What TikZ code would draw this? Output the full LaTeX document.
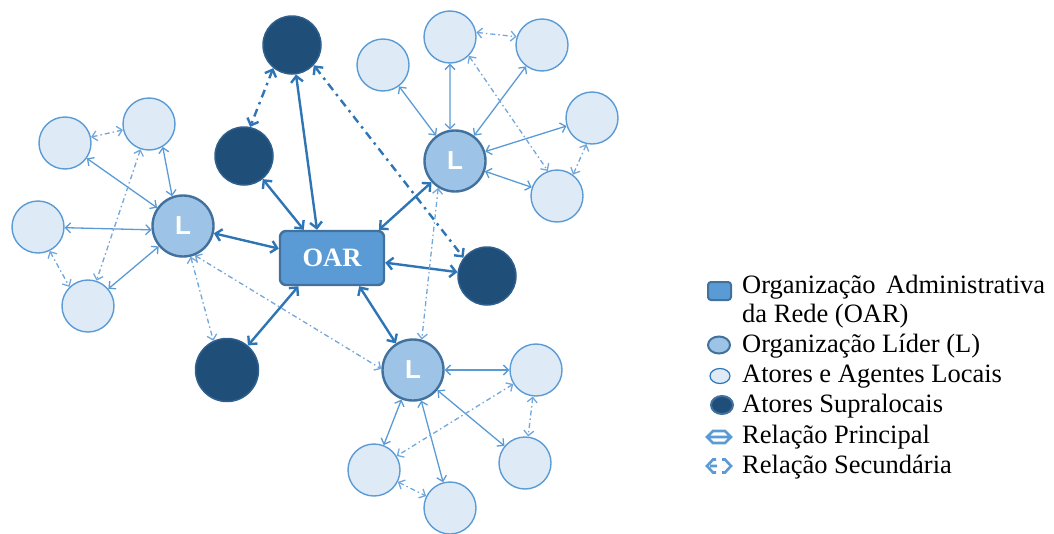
\documentclass[tikz,border=0pt]{standalone}
\usepackage{fontspec}
\setmainfont{Liberation Serif}
\newfontfamily\lsans{Liberation Sans}
\usetikzlibrary{arrows.meta,shapes.geometric}
\definecolor{lightfill}{HTML}{DEEBF7}
\definecolor{lightedge}{HTML}{5B9BD5}
\definecolor{secedge}{HTML}{72A7DC}
\definecolor{leadfill}{HTML}{9DC3E6}
\definecolor{leadedge}{HTML}{41719C}
\definecolor{oarfill}{HTML}{5B9BD5}
\definecolor{darkfill}{HTML}{1F4E79}
\definecolor{darkedge}{HTML}{2F5F8C}
\definecolor{prinedge}{HTML}{2E75B6}
\begin{document}
\begin{tikzpicture}[x=1pt,y=-1pt,
 lightnode/.style={circle, minimum size=52pt, inner sep=0pt, fill=lightfill, draw=lightedge, line width=1.4pt},
 leadnode/.style={circle, minimum size=61pt, inner sep=0pt, fill=leadfill, draw=leadedge, line width=2.4pt, text=white, font=\lsans\bfseries\fontsize{26}{26}\selectfont},
 supranode/.style={circle, minimum size=58pt, inner sep=0pt, fill=darkfill, draw=darkedge, line width=1.5pt},
 oarnode/.style={rectangle, rounded corners=6pt, minimum width=104pt, minimum height=54pt, inner sep=0pt, fill=oarfill, draw=leadedge, line width=2.4pt, text=white, font=\bfseries\fontsize{26.5}{26.5}\selectfont},
 prin/.style={draw=prinedge, line width=2.4pt, {Straight Barb[length=6pt,width=12pt]}-{Straight Barb[length=6pt,width=12pt]}},
 prinsec/.style={prin, dash pattern=on 8pt off 5pt on 2.5pt off 5pt},
 loc/.style={draw=lightedge, line width=1.3pt, {Straight Barb[length=5pt,width=10pt]}-{Straight Barb[length=5pt,width=10pt]}},
 locsec/.style={draw=secedge, line width=1.3pt, dash pattern=on 5pt off 3pt on 1.5pt off 3pt, {Straight Barb[length=5pt,width=10pt]}-{Straight Barb[length=5pt,width=10pt]}},
 legtext/.style={anchor=base west, inner sep=0pt, font=\fontsize{26.5}{30}\selectfont},
 legicon/.style={inner sep=0pt},
 legarrow/.style={draw=lightedge, line width=2.6pt, line join=miter}
]
\useasboundingbox (0,0) rectangle (1054,533);

% left cluster
\node[lightnode] (A1) at (65,143) {};
\node[lightnode] (A2) at (149,124) {};
\node[lightnode] (A3) at (38,227) {};
\node[lightnode] (A4) at (88,306) {};
\node[leadnode] (L1) at (183,226) {L};
% supralocal actors
\node[supranode] (D1) at (292,45) {};
\node[supranode] (D2) at (244,156) {};
\node[supranode] (D3) at (487,276) {};
\node[supranode, minimum size=63pt] (D4) at (227,370) {};
% OAR
\node[oarnode] (OAR) at (332,258) {OAR};
% top right cluster
\node[leadnode] (L2) at (455,161) {L};
\node[lightnode] (B1) at (383,65) {};
\node[lightnode] (B2) at (450,37) {};
\node[lightnode] (B3) at (542,45) {};
\node[lightnode] (B4) at (592,118) {};
\node[lightnode] (B5) at (557,196) {};
% bottom right cluster
\node[leadnode] (L3) at (413,370) {L};
\node[lightnode] (C1) at (536,370) {};
\node[lightnode] (C2) at (525,463) {};
\node[lightnode] (C3) at (450,508) {};
\node[lightnode] (C4) at (374,470) {};

% principal relations
\draw[prin] (L1) -- (OAR.170);
\draw[prin] (D2) -- (OAR.135);
\draw[prin] (D1) -- (OAR.118);
\draw[prin] (L2) -- (OAR.31);
\draw[prin] (OAR.-5) -- (D3);
\draw[prin] (D4) -- (OAR.220);
\draw[prin] (L3) -- (OAR.-46);
\draw[prinsec] (D1.231) -- (D2.78);
\draw[prinsec] (D1.-43) -- (D3.142);

% secondary between leaders / supralocal
\draw[locsec] (L1.-76) -- (D4.115);
\draw[locsec] (L1.-68) -- (L3.178);
\draw[locsec] (L2.238) -- (L3.74);

% left cluster
\draw[loc] (A1) -- (L1);
\draw[loc] (A2.-59) -- (L1.110);
\draw[loc] (A3) -- (L1.187);
\draw[loc] (A4) -- (L1);
\draw[locsec] (A1) -- (A2);
\draw[locsec] (A2) -- (A4);
\draw[locsec] (A3.-64) -- (A4.134);

% top right cluster
\draw[loc] (B1) -- (L2);
\draw[loc] (B2.-90) -- (L2.99);
\draw[loc] (B3) -- (L2);
\draw[loc] (B4) -- (L2);
\draw[loc] (L2) -- (B5);
\draw[locsec] (B2.10) -- (B3.162);
\draw[locsec] (B2.-45) -- (B5.110);
\draw[locsec] (B4.-102) -- (B5.53);

% bottom right cluster
\draw[loc] (L3) -- (C1);
\draw[loc] (L3) -- (C2);
\draw[loc] (L3) -- (C3);
\draw[loc] (L3) -- (C4);
\draw[locsec] (C1) -- (C2);
\draw[locsec] (C4) -- (C3);
\draw[locsec] (C1) -- (C4);

% legend
\node[legicon, rectangle, rounded corners=3pt, minimum width=23pt, minimum height=18pt, fill=oarfill, draw=leadedge, line width=2pt] (k1) at (719.5,291) {};
\node[legicon, ellipse, minimum width=22pt, minimum height=17pt, fill=leadfill, draw=leadedge, line width=2pt] (k2) at (719,345) {};
\node[legicon, ellipse, minimum width=20pt, minimum height=15pt, fill=lightfill, draw=prinedge, line width=1.2pt] (k3) at (720,376) {};
\node[legicon, ellipse, minimum width=22pt, minimum height=18pt, fill=darkfill, draw=leadedge, line width=2pt] (k4) at (722,405) {};
\draw[legarrow] (707,437) -- (713,431) -- (725,431) -- (731,437) -- (725,443) -- (713,443) -- cycle (709,437) -- (729,437);
\draw[legarrow] (716,459.5) -- (713,459.5) -- (707,466) -- (713,472.5) -- (716,472.5) (710,466) -- (717,466)
  (722,459.5) -- (725,459.5) -- (731,466) -- (725,472.5) -- (722,472.5);

\node[legtext] (t1) at (742,293) {\makebox[303pt][s]{Organização Administrativa}};
\node[legtext] (t2) at (742,322) {da Rede (OAR)};
\node[legtext] (t3) at (742,352) {Organização Líder (L)};
\node[legtext] (t4) at (742,382) {Atores e Agentes Locais};
\node[legtext] (t5) at (742,412) {Atores Supralocais};
\node[legtext] (t6) at (742,443) {Relação Principal};
\node[legtext] (t7) at (742,473) {Relação Secundária};
\end{tikzpicture}
\end{document}
